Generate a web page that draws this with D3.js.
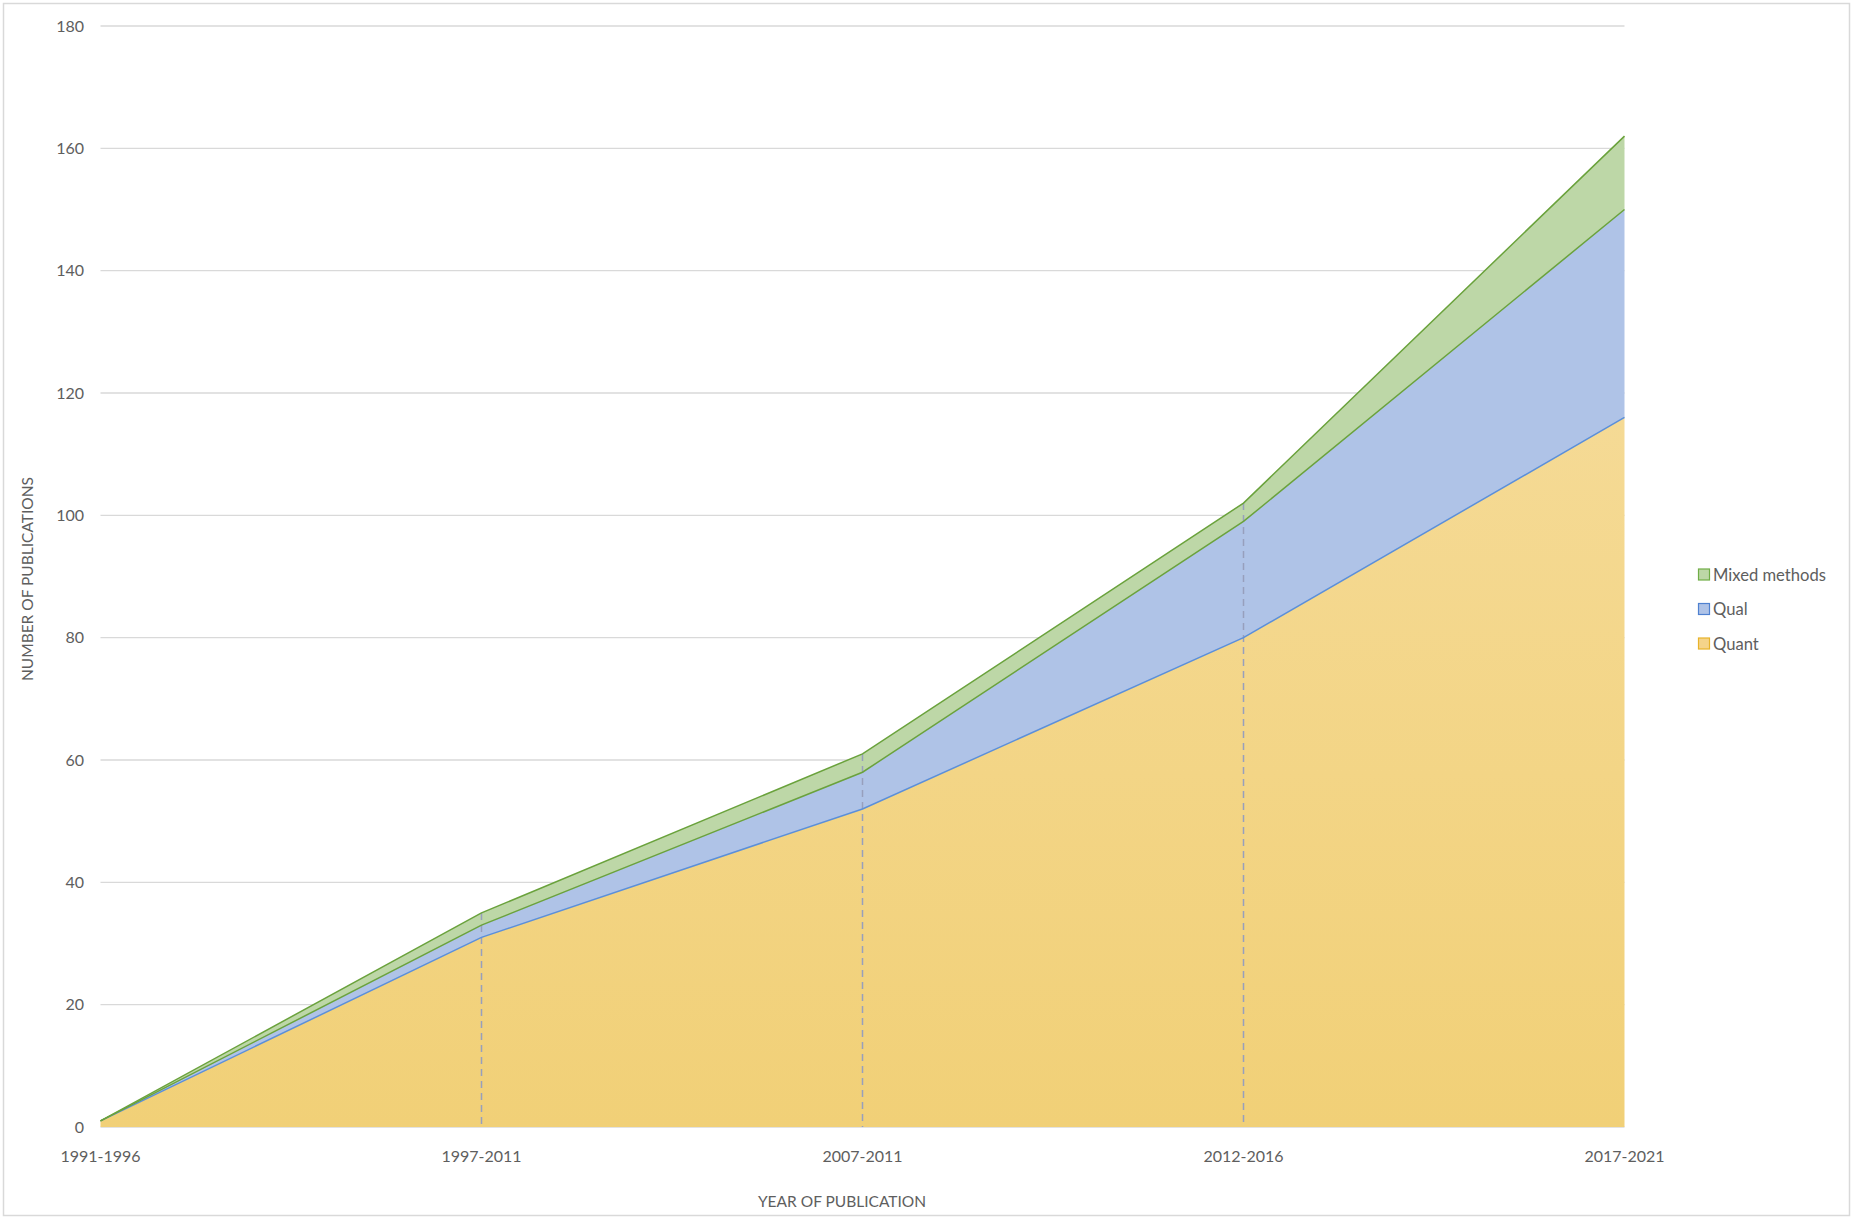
<!DOCTYPE html>
<html><head><meta charset="utf-8">
<script src="https://cdn.jsdelivr.net/npm/d3@7"></script>
<style>body{margin:0;background:#fff}svg{display:block}text{font-family:Lato,"Open Sans",sans-serif;fill:#5e5e5e}</style>
</head><body><svg id="c" width="1854" height="1220"></svg>
<script>
const categories = ["1991-1996","1997-2011","2007-2011","2012-2016","2017-2021"];
const quant = [1, 31, 52, 80, 116];
const qual = [0, 2, 6, 19, 34];
const mixed = [0, 2, 3, 3, 12];
const seriesNames = ["Quant","Qual","Mixed methods"];
const yTicks = [0,20,40,60,80,100,120,140,160,180];

(function(){
const svg = d3.select("#c");
const W = 1854, H = 1220;
const pLeft = 100.5, pRight = 1624.5, pTop = 26, pBottom = 1127;

svg.append("rect").attr("x",3.5).attr("y",3.5).attr("width",W-8).attr("height",H-8)
  .attr("fill","#fff").attr("stroke","#d9d9d9").attr("stroke-width",1.5);

const defs = svg.append("defs");
const g1 = defs.append("linearGradient").attr("id","gq").attr("x1",0).attr("x2",0).attr("y1",0).attr("y2",1);
g1.append("stop").attr("offset","0%").attr("stop-color","#f5da95");
g1.append("stop").attr("offset","100%").attr("stop-color","#f1d077");

const x = d3.scalePoint().domain(categories).range([pLeft, pRight]);
const y = d3.scaleLinear().domain([0,180]).range([pBottom, pTop]);

svg.append("g").selectAll("line").data(yTicks).join("line")
  .attr("x1", pLeft).attr("x2", pRight).attr("y1", d=>y(d)).attr("y2", d=>y(d))
  .attr("stroke","#d9d9d9").attr("stroke-width",1.3);

const data = categories.map((c,i)=>({cat:c, Quant:quant[i], Qual:qual[i], "Mixed methods":mixed[i]}));
const stack = d3.stack().keys(seriesNames)(data);
const fills = {"Quant":"url(#gq)","Qual":"#afc3e7","Mixed methods":"#bdd7a7"};
const strokes = {"Quant":"#5b8fd9","Qual":"#6aa23c","Mixed methods":"#6aa23c"};

const area = d3.area().x(d=>x(d.data.cat)).y0(d=>y(d[0])).y1(d=>y(d[1]));
const topLine = d3.line().x(d=>x(d.data.cat)).y(d=>y(d[1]));

svg.append("g").selectAll("path").data(stack).join("path")
  .attr("d", area).attr("fill", d=>fills[d.key]);

const totals = categories.map((c,i)=>quant[i]+qual[i]+mixed[i]);
svg.append("g").selectAll("line").data(categories.slice(1,4)).join("line")
  .attr("x1", d=>x(d)).attr("x2", d=>x(d))
  .attr("y1", d=>y(totals[categories.indexOf(d)])).attr("y2", pBottom)
  .attr("stroke","#979fbd").attr("stroke-width",1.5).attr("stroke-dasharray","7,5");

svg.append("g").selectAll("path").data(stack).join("path")
  .attr("d", topLine).attr("fill","none").attr("stroke", d=>strokes[d.key]).attr("stroke-width",1.5);

svg.append("g").selectAll("text").data(yTicks).join("text")
  .attr("x", 84).attr("y", d=>y(d)).attr("dy","0.35em").attr("text-anchor","end")
  .attr("font-size",16).text(d=>d);
svg.append("g").selectAll("text").data(categories).join("text")
  .attr("x", d=>x(d)).attr("y", 1156).attr("dy","0.35em").attr("text-anchor","middle")
  .attr("font-size",16).text(d=>d);

svg.append("text").attr("x", 842).attr("y", 1202).attr("dy","0.35em").attr("text-anchor","middle")
  .attr("font-size",15.5).text("YEAR OF PUBLICATION");
svg.append("text").attr("transform","translate(28,579) rotate(-90)").attr("dy","0.35em")
  .attr("text-anchor","middle").attr("font-size",15.5).text("NUMBER OF PUBLICATIONS");

const legendItems = ["Mixed methods","Qual","Quant"];
const legendStroke = {"Mixed methods":"#70ad47","Qual":"#4f81d0","Quant":"#e8b32a"};
const legendFill = {"Mixed methods":"#bdd7a7","Qual":"#afc3e7","Quant":"#f5d48a"};
const lg = svg.append("g").selectAll("g").data(legendItems).join("g")
  .attr("transform",(d,i)=>`translate(1698,${575 + i*34.5})`);
lg.append("rect").attr("x",0.5).attr("y",-6).attr("width",11).attr("height",11)
  .attr("fill",d=>legendFill[d]).attr("stroke",d=>legendStroke[d]).attr("stroke-width",1.2);
lg.append("text").attr("x",15).attr("y",0).attr("dy","0.35em").attr("font-size",16.6).text(d=>d);
})();
</script></body></html>
